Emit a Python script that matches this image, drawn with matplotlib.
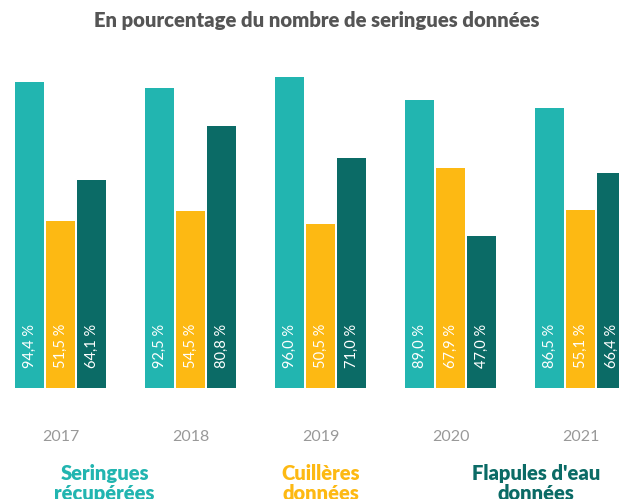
import matplotlib
matplotlib.use("Agg")
import matplotlib.pyplot as plt
import numpy as np

years = ["2017", "2018", "2019", "2020", "2021"]
seringues = [94.4, 92.5, 96.0, 89.0, 86.5]
cuilleres = [51.5, 54.5, 50.5, 67.9, 55.1]
flapules = [64.1, 80.8, 71.0, 47.0, 66.4]
series_names = ["Seringues\nrécupérées", "Cuillères\ndonnées", "Flapules d'eau\ndonnées"]
colors = ["#22B5B0", "#FDB913", "#0B6B66"]
title = "En pourcentage du nombre de seringues données"

plt.rcParams['font.family'] = ['Lato', 'DejaVu Sans']

fig = plt.figure(figsize=(6.19, 4.99), dpi=100)
ax = fig.add_axes([0, 0, 1, 1])
ax.set_xlim(-0.465, 4.296)
ax.set_ylim(-34.3, 119.8)
ax.axis('off')

x = np.arange(len(years))
width = 0.223
step = 0.238
all_series = [seringues, cuilleres, flapules]
for k, (vals, col) in enumerate(zip(all_series, colors)):
    xs = x + (k - 1) * step
    ax.bar(xs, vals, width=width, color=col, zorder=1)
    for xi, v in zip(xs, vals):
        ax.annotate(f"{v:.1f} %".replace(".", ","), (xi, 0), xytext=(0, 14),
                    textcoords="offset points", rotation=90, ha="center",
                    va="bottom", color="white", fontsize=10.5, zorder=5)

for xi, yr in zip(x, years):
    ax.text(xi, -15.1, yr, ha="center", va="center", color="#999999", fontsize=11.5)

legend_x = [0.34, 2.0, 3.66]
for lx, name, col in zip(legend_x, series_names, colors):
    ax.text(lx, -23.6, name, ha="center", va="top", color=col, fontsize=14.5,
            fontweight="heavy", linespacing=1.05)

fig.text(317 / 619, 1 - 20 / 499, title, ha="center", va="center", color="#555555",
         fontsize=14.6, fontweight="heavy")

fig.savefig("out.png", dpi=100)
